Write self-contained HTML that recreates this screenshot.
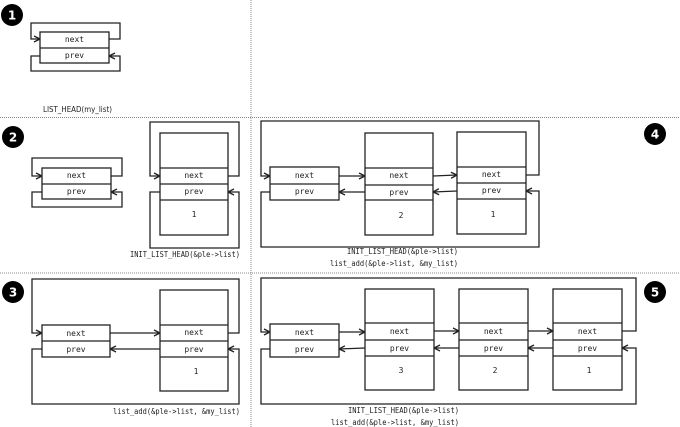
<!DOCTYPE html>
<html><head><meta charset="utf-8"><style>
html,body{margin:0;padding:0;background:#fff;}
svg{display:block;}
text{font-family:"DejaVu Sans Mono","Liberation Mono",monospace;font-size:8px;fill:#222;}
.b{fill:#fff;stroke:#222;stroke-width:1.3;}
.l{fill:none;stroke:#222;stroke-width:1.3;}
.n{font-family:"DejaVu Sans","Liberation Sans",sans-serif;font-size:12px;font-weight:bold;fill:#fff;}
</style></head><body>
<svg width="680" height="427" viewBox="0 0 680 427" xmlns="http://www.w3.org/2000/svg">
<defs>
<marker id="a" markerWidth="8" markerHeight="8" refX="7" refY="4" orient="auto" markerUnits="userSpaceOnUse">
<polyline points="1,1 7,4 1,7" fill="none" stroke="#222" stroke-width="1.3"/>
</marker>
</defs>
<line x1="251" y1="0" x2="251" y2="427" stroke="#888" stroke-width="1" stroke-dasharray="1,1"/>
<line x1="0" y1="117.5" x2="680" y2="117.5" stroke="#888" stroke-width="1" stroke-dasharray="1,1"/>
<line x1="0" y1="273" x2="680" y2="273" stroke="#888" stroke-width="1" stroke-dasharray="1,1"/>

<circle cx="12" cy="15" r="11" fill="#000"/><text class="n" x="12" y="19.5" text-anchor="middle">1</text>
<circle cx="13" cy="137" r="11" fill="#000"/><text class="n" x="13" y="141.5" text-anchor="middle">2</text>
<circle cx="13" cy="292" r="11" fill="#000"/><text class="n" x="13" y="296.5" text-anchor="middle">3</text>
<circle cx="655" cy="134" r="11" fill="#000"/><text class="n" x="655" y="138.5" text-anchor="middle">4</text>
<circle cx="655" cy="292" r="11" fill="#000"/><text class="n" x="655" y="296.5" text-anchor="middle">5</text>

<!-- Panel 1 -->
<polyline class="l" points="109,39 120,39 120,23 31,23 31,39 40,39" marker-end="url(#a)"/>
<polyline class="l" points="40,56 31,56 31,71 120,71 120,56 109,56" marker-end="url(#a)"/>
<rect class="b" x="40" y="32" width="69" height="31"/><line class="l" x1="40" y1="48" x2="109" y2="48"/>
<text x="74.5" y="42" text-anchor="middle">next</text><text x="74.5" y="58" text-anchor="middle">prev</text>
<text x="43" y="112" textLength="69" lengthAdjust="spacingAndGlyphs" style="font-family:'DejaVu Sans','Liberation Sans',sans-serif">LIST_HEAD(my_list)</text>

<!-- Panel 2 -->
<polyline class="l" points="111,176 122,176 122,158 32,158 32,176 42,176" marker-end="url(#a)"/>
<polyline class="l" points="42,192 32,192 32,207 122,207 122,192 111,192" marker-end="url(#a)"/>
<rect class="b" x="42" y="168" width="69" height="31"/><line class="l" x1="42" y1="184" x2="111" y2="184"/>
<text x="76.5" y="178" text-anchor="middle">next</text><text x="76.5" y="194" text-anchor="middle">prev</text>
<polyline class="l" points="228,176 239,176 239,122 150,122 150,176 160,176" marker-end="url(#a)"/>
<polyline class="l" points="160,192 150,192 150,248 239,248 239,192 228,192" marker-end="url(#a)"/>
<rect class="b" x="160" y="133" width="68" height="102"/>
<line class="l" x1="160" y1="168" x2="228" y2="168"/><line class="l" x1="160" y1="184" x2="228" y2="184"/><line class="l" x1="160" y1="200" x2="228" y2="200"/>
<text x="194" y="178" text-anchor="middle">next</text><text x="194" y="194" text-anchor="middle">prev</text><text x="194" y="217" text-anchor="middle">1</text>
<text x="130" y="257" textLength="110" lengthAdjust="spacingAndGlyphs">INIT_LIST_HEAD(&amp;ple-&gt;list)</text>

<!-- Panel 4 -->
<polyline class="l" points="526,175 539,175 539,121 261,121 261,176 270,176" marker-end="url(#a)"/>
<polyline class="l" points="270,192 261,192 261,247 539,247 539,191 526,191" marker-end="url(#a)"/>
<line class="l" x1="339" y1="176" x2="365" y2="176" marker-end="url(#a)"/>
<line class="l" x1="433" y1="176" x2="457" y2="175" marker-end="url(#a)"/>
<line class="l" x1="365" y1="192" x2="339" y2="192" marker-end="url(#a)"/>
<line class="l" x1="457" y1="191" x2="433" y2="192" marker-end="url(#a)"/>
<rect class="b" x="270" y="167" width="69" height="33"/><line class="l" x1="270" y1="184" x2="339" y2="184"/>
<text x="304.5" y="178" text-anchor="middle">next</text><text x="304.5" y="194" text-anchor="middle">prev</text>
<rect class="b" x="365" y="133" width="68" height="102"/>
<line class="l" x1="365" y1="168" x2="433" y2="168"/><line class="l" x1="365" y1="185" x2="433" y2="185"/><line class="l" x1="365" y1="200" x2="433" y2="200"/>
<text x="399" y="178" text-anchor="middle">next</text><text x="399" y="195" text-anchor="middle">prev</text><text x="401" y="218" text-anchor="middle">2</text>
<rect class="b" x="457" y="132" width="69" height="102"/>
<line class="l" x1="457" y1="167" x2="526" y2="167"/><line class="l" x1="457" y1="183" x2="526" y2="183"/><line class="l" x1="457" y1="199" x2="526" y2="199"/>
<text x="491.5" y="177" text-anchor="middle">next</text><text x="491.5" y="193" text-anchor="middle">prev</text><text x="493" y="217" text-anchor="middle">1</text>
<text x="347" y="254" textLength="111" lengthAdjust="spacingAndGlyphs">INIT_LIST_HEAD(&amp;ple-&gt;list)</text>
<text x="330" y="266" textLength="128" lengthAdjust="spacingAndGlyphs">list_add(&amp;ple-&gt;list, &amp;my_list)</text>

<!-- Panel 3 -->
<polyline class="l" points="228,333 239,333 239,279 32,279 32,333 42,333" marker-end="url(#a)"/>
<polyline class="l" points="42,349 32,349 32,404 239,404 239,349 228,349" marker-end="url(#a)"/>
<line class="l" x1="110" y1="333" x2="160" y2="333" marker-end="url(#a)"/>
<line class="l" x1="160" y1="349" x2="110" y2="349" marker-end="url(#a)"/>
<rect class="b" x="42" y="325" width="68" height="32"/><line class="l" x1="42" y1="341" x2="110" y2="341"/>
<text x="76" y="336" text-anchor="middle">next</text><text x="76" y="352" text-anchor="middle">prev</text>
<rect class="b" x="160" y="290" width="68" height="101"/>
<line class="l" x1="160" y1="325" x2="228" y2="325"/><line class="l" x1="160" y1="341" x2="228" y2="341"/><line class="l" x1="160" y1="357" x2="228" y2="357"/>
<text x="194" y="335" text-anchor="middle">next</text><text x="194" y="352" text-anchor="middle">prev</text><text x="196" y="374" text-anchor="middle">1</text>
<text x="113" y="414" textLength="127" lengthAdjust="spacingAndGlyphs">list_add(&amp;ple-&gt;list, &amp;my_list)</text>

<!-- Panel 5 -->
<polyline class="l" points="622,331 636,331 636,278 261,278 261,332 270,332" marker-end="url(#a)"/>
<polyline class="l" points="270,349 261,349 261,404 636,404 636,348 622,348" marker-end="url(#a)"/>
<line class="l" x1="339" y1="332" x2="365" y2="332" marker-end="url(#a)"/>
<line class="l" x1="434" y1="331" x2="459" y2="331" marker-end="url(#a)"/>
<line class="l" x1="528" y1="331" x2="553" y2="331" marker-end="url(#a)"/>
<line class="l" x1="365" y1="348" x2="339" y2="349" marker-end="url(#a)"/>
<line class="l" x1="459" y1="348" x2="434" y2="348" marker-end="url(#a)"/>
<line class="l" x1="553" y1="348" x2="528" y2="348" marker-end="url(#a)"/>
<rect class="b" x="270" y="324" width="69" height="33"/><line class="l" x1="270" y1="340" x2="339" y2="340"/>
<text x="304.5" y="335" text-anchor="middle">next</text><text x="304.5" y="352" text-anchor="middle">prev</text>
<rect class="b" x="365" y="289" width="69" height="101"/>
<line class="l" x1="365" y1="323" x2="434" y2="323"/><line class="l" x1="365" y1="340" x2="434" y2="340"/><line class="l" x1="365" y1="356" x2="434" y2="356"/>
<text x="399.5" y="334" text-anchor="middle">next</text><text x="399.5" y="351" text-anchor="middle">prev</text><text x="401" y="373" text-anchor="middle">3</text>
<rect class="b" x="459" y="289" width="69" height="101"/>
<line class="l" x1="459" y1="323" x2="528" y2="323"/><line class="l" x1="459" y1="340" x2="528" y2="340"/><line class="l" x1="459" y1="356" x2="528" y2="356"/>
<text x="493.5" y="334" text-anchor="middle">next</text><text x="493.5" y="351" text-anchor="middle">prev</text><text x="495" y="373" text-anchor="middle">2</text>
<rect class="b" x="553" y="289" width="69" height="101"/>
<line class="l" x1="553" y1="323" x2="622" y2="323"/><line class="l" x1="553" y1="340" x2="622" y2="340"/><line class="l" x1="553" y1="356" x2="622" y2="356"/>
<text x="587.5" y="334" text-anchor="middle">next</text><text x="587.5" y="351" text-anchor="middle">prev</text><text x="589" y="373" text-anchor="middle">1</text>
<text x="348" y="413" textLength="111" lengthAdjust="spacingAndGlyphs">INIT_LIST_HEAD(&amp;ple-&gt;list)</text>
<text x="331" y="425" textLength="128" lengthAdjust="spacingAndGlyphs">list_add(&amp;ple-&gt;list, &amp;my_list)</text>
</svg>
</body></html>
